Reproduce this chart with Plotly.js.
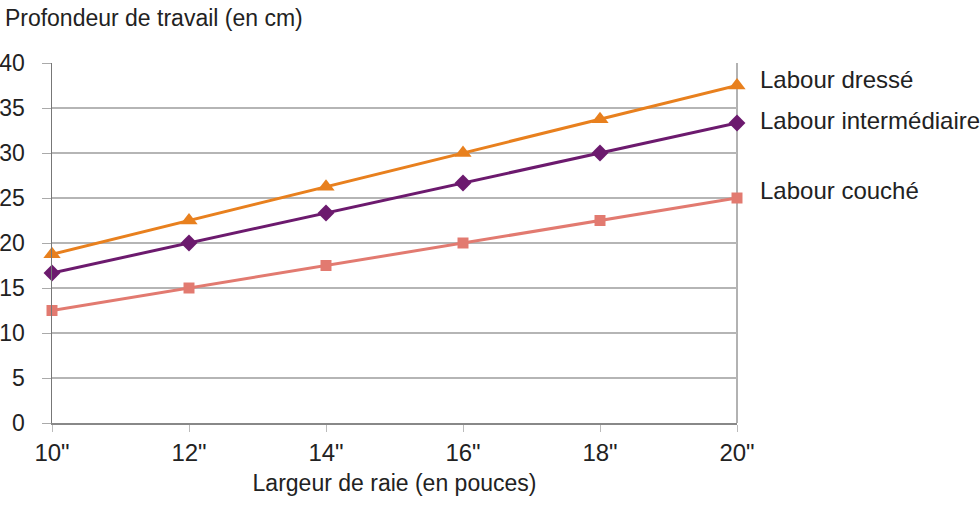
<!DOCTYPE html>
<html>
<head>
<meta charset="utf-8">
<script src="https://cdn.plot.ly/plotly-3.0.1.min.js"></script>
<style>
  html, body { margin: 0; padding: 0; background: #fff; }
  #chart { width: 980px; height: 507px; }
</style>
</head>
<body>
<div id="chart"></div>
<script>
// largeur de raie (pouces) et profondeur de travail (cm)
const widths = [10, 12, 14, 16, 18, 20];
const tickLabels = ['10"', '12"', '14"', '16"', '18"', '20"'];
const seriesNames = ['Labour dressé', 'Labour intermédiaire', 'Labour couché'];
const dresse = [18.75, 22.5, 26.25, 30, 33.75, 37.5];
const intermediaire = [16.67, 20, 23.33, 26.67, 30, 33.33];
const couche = [12.5, 15, 17.5, 20, 22.5, 25];

const FONT = '"Liberation Sans", Arial, sans-serif';
const colors = ['#E8801E', '#6C1A6E', '#E27A70'];
const symbols = ['triangle-up', 'diamond', 'square'];
const sizes = [15, 13, 11];
const values = [dresse, intermediaire, couche];
const labelY = [0.955, 0.84, 0.645];

const traces = values.map((v, i) => ({
  x: widths,
  y: v,
  name: seriesNames[i],
  type: 'scatter',
  mode: 'lines+markers',
  line: {color: colors[i], width: 3},
  marker: {color: colors[i], symbol: symbols[i], size: sizes[i]},
  cliponaxis: false
}));

const annotations = seriesNames.map((n, i) => ({
  text: n,
  xref: 'paper', yref: 'paper',
  x: 1.03, y: labelY[i],
  xanchor: 'left', yanchor: 'middle',
  showarrow: false,
  font: {family: FONT, size: 24, color: '#222'}
}));

const layout = {
  width: 980,
  height: 507,
  margin: {l: 52, r: 243, t: 63, b: 84},
  paper_bgcolor: '#fff',
  plot_bgcolor: '#fff',
  showlegend: false,
  font: {family: FONT, color: '#222'},
  title: {
    text: 'Profondeur de travail (en cm)',
    xref: 'container', yref: 'container',
    x: 0.005, xanchor: 'left',
    y: 0.965, yanchor: 'middle',
    font: {family: FONT, size: 23, color: '#222'}
  },
  xaxis: {
    range: [10, 20],
    tickvals: widths,
    ticktext: tickLabels,
    showgrid: false,
    zeroline: false,
    showline: true,
    linecolor: '#888',
    linewidth: 2,
    mirror: false,
    ticks: 'outside',
    ticklen: 7,
    tickcolor: '#bbb',
    tickfont: {family: FONT, size: 24, color: '#222'},
    title: {
      text: 'Largeur de raie (en pouces)',
      font: {family: FONT, size: 23, color: '#222'},
      standoff: 10
    }
  },
  yaxis: {
    range: [0, 40],
    dtick: 5,
    showgrid: true,
    gridcolor: '#b5b5b5',
    gridwidth: 1.5,
    zeroline: false,
    showline: true,
    linecolor: '#777',
    linewidth: 1.5,
    ticks: 'outside',
    ticklen: 9,
    tickcolor: '#aaa',
    ticklabelstandoff: 12,
    tickfont: {family: FONT, size: 23, color: '#222'}
  },
  shapes: [
    {type: 'line', xref: 'paper', yref: 'paper', x0: 1, x1: 1, y0: 0, y1: 1,
     line: {color: '#999', width: 1.5}, layer: 'below'}
  ],
  annotations: annotations
};

Plotly.newPlot('chart', traces, layout, {displayModeBar: false, staticPlot: true});
</script>
</body>
</html>
